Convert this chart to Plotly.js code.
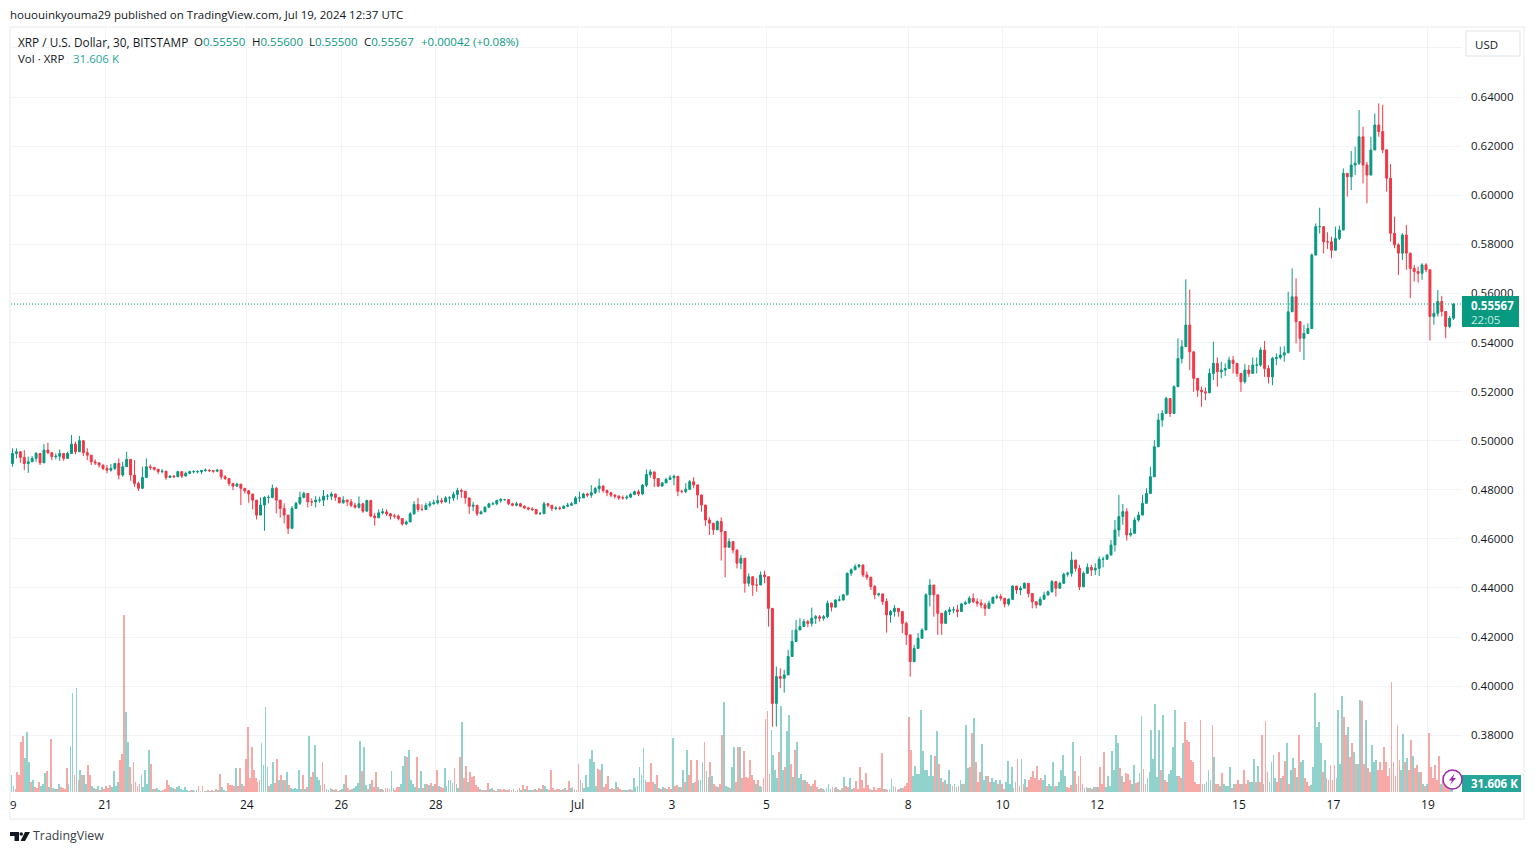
<!DOCTYPE html>
<html>
<head>
<meta charset="utf-8">
<script src="https://cdn.plot.ly/plotly-3.0.1.min.js"></script>
<style>html,body{margin:0;padding:0;background:#fff;overflow:hidden}#chart{width:1534px;height:854px}</style>
</head>
<body>
<div id="chart"></div>
<script>
// Two-hour candles, one row per day (19 Jun - 19 Jul 2024)
const opens = [
.4907,.4948,.4955,.4932,.4907,.4914,.4928,.4948,.4910,.4962,.4951,.4935,
.4937,.4948,.4928,.4948,.4986,.4955,.5000,.4951,.4941,.4914,.4910,.4901,
.4887,.4880,.4887,.4907,.4860,.4894,.4924,.4860,.4826,.4806,.4850,.4894,
.4891,.4884,.4874,.4876,.4850,.4856,.4853,.4874,.4856,.4867,.4874,.4874,.4874,
.4878,.4880,.4878,.4876,.4880,.4853,.4846,.4826,.4815,.4823,.4806,.4796,
.4783,.4758,.4697,.4738,.4769,.4769,.4806,.4758,.4724,.4697,.4643,.4724,
.4745,.4769,.4785,.4751,.4751,.4758,.4758,.4774,.4774,.4783,.4769,
.4747,.4758,.4751,.4737,.4729,.4743,.4713,.4756,.4693,.4686,.4706,.4710,
.4702,.4693,.4693,.4683,.4661,.4669,.4702,.4740,.4720,.4720,.4737,.4743,
.4747,.4756,.4751,.4767,.4767,.4781,.4797,.4794,.4767,.4733,.4737,.4702,
.4710,.4729,.4743,.4743,.4756,.4760,.4760,.4743,.4737,.4743,.4733,.4726,
.4722,.4720,.4702,.4703,.4743,.4737,.4724,.4726,.4724,.4733,.4737,.4743,
.4767,.4767,.4783,.4778,.4788,.4805,.4815,.4797,.4788,.4778,.4774,.4767,
.4767,.4770,.4781,.4792,.4783,.4819,.4862,.4873,.4846,.4815,.4828,.4842,
.4849,.4855,.4794,.4793,.4802,.4833,.4820,.4779,.4738,.4677,.4664,.4637,
.4671,.4630,.4566,.4589,.4555,.4501,.4521,.4419,.4446,.4412,.4412,.4453,
.4446,.4317,.3930,.4039,.4032,.4046,.4121,.4182,.4229,.4243,.4263,.4256,
.4277,.4283,.4277,.4283,.4338,.4322,.4351,.4351,.4372,.4460,.4474,.4487,
.4494,.4453,.4444,.4406,.4372,.4376,.4345,.4290,.4304,.4317,.4304,.4256,
.4209,.4100,.4154,.4195,.4229,.4372,.4412,.4372,.4297,.4256,.4304,.4311,
.4311,.4304,.4335,.4340,.4358,.4344,.4338,.4331,.4317,.4338,.4362,.4365,
.4358,.4335,.4354,.4408,.4392,.4399,.4419,.4378,.4344,.4331,.4354,.4371,
.4385,.4426,.4399,.4419,.4456,.4460,.4514,.4480,.4405,.4460,.4484,.4473,
.4480,.4517,.4517,.4534,.4575,.4636,.4691,.4711,.4616,.4623,.4677,.4697,
.4745,.4785,.4853,.4975,.5084,.5111,.5172,.5111,.5220,.5335,.5383,.5471,
.5362,.5254,.5206,.5199,.5195,.5274,.5315,.5281,.5288,.5294,.5328,.5315,
.5274,.5240,.5288,.5274,.5308,.5308,.5369,.5294,.5260,.5335,.5339,.5349,
.5358,.5525,.5586,.5485,.5417,.5437,.5457,.5756,.5872,.5872,.5810,.5810,
.5776,.5824,.5858,.6089,.6075,.6123,.6130,.6238,.6123,.6082,.6184,.6286,
.6259,.6185,.6069,.5845,.5798,.5764,.5838,.5764,.5702,.5689,.5682,.5716,
.5696,.5506,.5519,.5567,.5526,.5465,.5499
];
const highs = [
.4969,.4969,.4955,.4962,.4935,.4937,.4954,.4941,.4986,.4992,.4945,.4948,
.4964,.4941,.4955,.5023,.4996,.5019,.4989,.4969,.4935,.4924,.4910,.4901,
.4901,.4905,.4910,.4928,.4914,.4955,.4907,.4921,.4833,.4894,.4928,.4903,
.4894,.4880,.4884,.4867,.4860,.4860,.4878,.4867,.4874,.4878,.4880,.4880,.4880,
.4887,.4883,.4880,.4884,.4883,.4860,.4842,.4826,.4829,.4812,.4806,.4799,
.4783,.4758,.4769,.4774,.4778,.4822,.4812,.4745,.4745,.4690,.4734,.4751,
.4792,.4792,.4778,.4765,.4774,.4772,.4799,.4783,.4792,.4778,.4761,
.4774,.4761,.4763,.4747,.4773,.4747,.4760,.4760,.4706,.4720,.4724,.4720,
.4706,.4702,.4699,.4679,.4675,.4709,.4754,.4767,.4740,.4747,.4754,.4760,
.4777,.4767,.4774,.4774,.4792,.4808,.4805,.4792,.4764,.4751,.4733,.4716,
.4733,.4747,.4750,.4760,.4767,.4763,.4756,.4747,.4751,.4747,.4737,.4731,
.4729,.4720,.4710,.4751,.4747,.4737,.4733,.4733,.4737,.4747,.4751,.4774,
.4792,.4788,.4788,.4819,.4811,.4846,.4819,.4801,.4792,.4783,.4778,.4777,
.4778,.4788,.4797,.4801,.4824,.4883,.4883,.4865,.4824,.4832,.4849,.4860,
.4862,.4819,.4800,.4827,.4840,.4851,.4793,.4756,.4711,.4688,.4650,.4675,
.4688,.4596,.4603,.4582,.4548,.4535,.4474,.4460,.4446,.4440,.4467,.4470,
.4446,.4311,.4080,.4073,.4066,.4148,.4229,.4270,.4277,.4273,.4270,.4320,
.4290,.4290,.4290,.4349,.4341,.4354,.4368,.4376,.4463,.4480,.4497,.4498,
.4480,.4467,.4433,.4412,.4381,.4362,.4358,.4311,.4331,.4313,.4304,.4263,
.4188,.4168,.4216,.4236,.4379,.4436,.4412,.4345,.4297,.4311,.4322,.4324,
.4331,.4340,.4348,.4367,.4378,.4358,.4354,.4340,.4348,.4365,.4374,.4376,
.4344,.4358,.4411,.4405,.4408,.4423,.4412,.4378,.4344,.4365,.4385,.4389,
.4433,.4419,.4426,.4462,.4467,.4548,.4514,.4494,.4467,.4500,.4494,.4500,
.4528,.4528,.4539,.4596,.4677,.4779,.4742,.4725,.4643,.4688,.4711,.4779,
.4806,.4894,.5002,.5111,.5125,.5179,.5172,.5226,.5417,.5410,.5657,.5616,
.5315,.5250,.5220,.5217,.5294,.5403,.5339,.5322,.5315,.5342,.5345,.5301,
.5263,.5312,.5308,.5339,.5339,.5380,.5406,.5308,.5342,.5356,.5383,.5385,
.5607,.5702,.5661,.5478,.5471,.5478,.5763,.5885,.5949,.5872,.5849,.5831,
.5872,.5876,.6109,.6089,.6180,.6198,.6347,.6279,.6136,.6238,.6333,.6374,
.6368,.6185,.6127,.5913,.5804,.5845,.5879,.5743,.5716,.5709,.5723,.5723,
.5689,.5560,.5614,.5590,.5519,.5508,.5560
];
const lows = [
.4894,.4928,.4910,.4880,.4869,.4914,.4914,.4901,.4910,.4945,.4921,.4924,
.4918,.4918,.4932,.4964,.4945,.4978,.4937,.4921,.4901,.4901,.4891,.4880,
.4867,.4874,.4880,.4842,.4853,.4901,.4837,.4812,.4795,.4829,.4860,.4880,
.4878,.4864,.4867,.4840,.4850,.4849,.4864,.4848,.4860,.4864,.4867,.4867,.4864,
.4874,.4872,.4869,.4872,.4842,.4840,.4815,.4799,.4812,.4738,.4785,.4747,
.4720,.4679,.4697,.4633,.4745,.4765,.4704,.4687,.4663,.4620,.4677,.4724,
.4738,.4765,.4728,.4734,.4728,.4747,.4734,.4758,.4758,.4755,.4745,
.4744,.4734,.4729,.4724,.4724,.4706,.4729,.4688,.4654,.4686,.4699,.4693,
.4679,.4683,.4675,.4654,.4656,.4675,.4699,.4710,.4713,.4726,.4729,.4740,
.4740,.4743,.4747,.4743,.4754,.4760,.4767,.4743,.4702,.4713,.4693,.4702,
.4713,.4733,.4737,.4737,.4747,.4756,.4737,.4733,.4733,.4729,.4722,.4716,
.4713,.4699,.4699,.4706,.4729,.4713,.4717,.4717,.4722,.4729,.4737,.4747,
.4751,.4770,.4770,.4767,.4783,.4788,.4788,.4774,.4770,.4764,.4758,.4760,
.4760,.4774,.4778,.4774,.4778,.4811,.4849,.4811,.4811,.4819,.4828,.4842,
.4819,.4774,.4786,.4786,.4806,.4806,.4725,.4711,.4653,.4616,.4616,.4664,
.4512,.4444,.4580,.4541,.4480,.4476,.4381,.4406,.4368,.4385,.4433,.4419,
.4243,.3835,.3835,.3992,.3974,.4059,.4121,.4182,.4229,.4243,.4240,.4243,
.4254,.4263,.4267,.4277,.4304,.4331,.4345,.4349,.4372,.4449,.4474,.4480,
.4444,.4433,.4392,.4354,.4365,.4331,.4218,.4259,.4283,.4283,.4216,.4168,
.4039,.4127,.4161,.4218,.4229,.4324,.4283,.4209,.4209,.4270,.4290,.4297,
.4281,.4310,.4331,.4335,.4338,.4324,.4317,.4286,.4317,.4348,.4354,.4348,
.4321,.4327,.4351,.4376,.4371,.4399,.4362,.4317,.4317,.4327,.4362,.4371,
.4381,.4365,.4403,.4430,.4446,.4446,.4467,.4392,.4426,.4457,.4449,.4453,
.4449,.4484,.4514,.4541,.4548,.4609,.4657,.4593,.4609,.4636,.4670,.4697,
.4758,.4799,.4880,.4975,.5057,.5111,.5097,.5138,.5220,.5315,.5403,.5288,
.5199,.5179,.5138,.5165,.5213,.5247,.5220,.5254,.5263,.5294,.5274,.5260,
.5199,.5233,.5260,.5274,.5274,.5301,.5260,.5233,.5226,.5308,.5331,.5322,
.5356,.5539,.5396,.5362,.5328,.5437,.5485,.5770,.5844,.5763,.5781,.5743,
.5804,.5817,.5858,.5994,.6021,.6082,.6123,.6048,.5967,.6089,.6204,.6238,
.6171,.6015,.5811,.5784,.5675,.5736,.5696,.5580,.5648,.5644,.5655,.5686,
.5408,.5472,.5506,.5506,.5417,.5458,.5492
];
const closes = [
.4948,.4955,.4932,.4907,.4914,.4928,.4948,.4910,.4962,.4951,.4935,.4937,
.4948,.4928,.4948,.4986,.4955,.5000,.4951,.4941,.4914,.4910,.4901,.4887,
.4880,.4887,.4907,.4860,.4894,.4924,.4860,.4826,.4806,.4850,.4894,.4891,
.4884,.4874,.4876,.4850,.4856,.4853,.4874,.4856,.4867,.4874,.4874,.4874,.4878,
.4880,.4878,.4876,.4880,.4853,.4846,.4826,.4815,.4823,.4806,.4796,.4783,
.4758,.4697,.4738,.4769,.4769,.4806,.4758,.4724,.4697,.4643,.4724,.4745,
.4769,.4785,.4751,.4751,.4758,.4758,.4774,.4774,.4783,.4769,.4747,
.4758,.4751,.4737,.4729,.4743,.4713,.4756,.4693,.4686,.4706,.4710,.4702,
.4693,.4693,.4683,.4661,.4669,.4702,.4740,.4720,.4720,.4737,.4743,.4747,
.4756,.4751,.4767,.4767,.4781,.4797,.4794,.4767,.4733,.4737,.4702,.4710,
.4729,.4743,.4743,.4756,.4760,.4760,.4743,.4737,.4743,.4733,.4726,.4722,
.4720,.4702,.4703,.4743,.4737,.4724,.4726,.4724,.4733,.4737,.4743,.4767,
.4767,.4783,.4778,.4788,.4805,.4815,.4797,.4788,.4778,.4774,.4767,.4767,
.4770,.4781,.4792,.4783,.4819,.4862,.4873,.4846,.4815,.4828,.4842,.4849,
.4855,.4794,.4793,.4802,.4833,.4820,.4779,.4738,.4677,.4664,.4637,.4671,
.4630,.4566,.4589,.4555,.4501,.4521,.4419,.4446,.4412,.4412,.4453,.4446,
.4317,.3930,.4039,.4032,.4046,.4121,.4182,.4229,.4243,.4263,.4256,.4277,
.4283,.4277,.4283,.4338,.4322,.4351,.4351,.4372,.4460,.4474,.4487,.4494,
.4453,.4444,.4406,.4372,.4376,.4345,.4290,.4304,.4317,.4304,.4256,.4209,
.4100,.4154,.4195,.4229,.4372,.4412,.4372,.4297,.4256,.4304,.4311,.4311,
.4304,.4335,.4340,.4358,.4344,.4338,.4331,.4317,.4338,.4362,.4365,.4358,
.4335,.4354,.4408,.4392,.4399,.4419,.4378,.4344,.4331,.4354,.4371,.4385,
.4426,.4399,.4419,.4456,.4460,.4514,.4480,.4405,.4460,.4484,.4473,.4480,
.4517,.4517,.4534,.4575,.4636,.4691,.4711,.4616,.4623,.4677,.4697,.4745,
.4785,.4853,.4975,.5084,.5111,.5172,.5111,.5220,.5335,.5383,.5471,.5362,
.5254,.5206,.5199,.5195,.5274,.5315,.5281,.5288,.5294,.5328,.5315,.5274,
.5240,.5288,.5274,.5308,.5308,.5369,.5294,.5260,.5335,.5339,.5349,.5358,
.5525,.5586,.5485,.5417,.5437,.5457,.5756,.5872,.5872,.5810,.5810,.5776,
.5824,.5858,.6089,.6075,.6123,.6130,.6238,.6123,.6082,.6184,.6286,.6259,
.6185,.6069,.5845,.5798,.5764,.5838,.5764,.5702,.5689,.5682,.5716,.5696,
.5506,.5519,.5567,.5526,.5465,.5499,.55567
];
// Hourly volume in thousands of XRP, one row per day; a negative sign marks a falling bar
const volumes = [
68,24,-12,-80,-68,-200,-224,136,240,120,-40,48,-20,-16,-40,24,32,76,-84,20,-212,16,12,-12,
32,-20,-16,-12,-96,32,184,396,-68,416,-48,88,-68,68,32,-108,-68,24,16,-12,24,-8,20,-12,
-24,-16,-28,20,84,24,40,-128,-152,-708,320,200,-100,32,-120,-40,-24,-32,68,20,88,32,168,-112,
12,-12,16,8,4,-8,-12,-48,-28,20,16,-12,20,24,12,8,20,8,4,-8,8,-4,8,-24,
4,-24,4,4,-8,4,-8,4,-12,8,-72,20,8,4,-36,-28,-28,-24,96,-24,-96,32,-24,-132,
-260,-56,-180,-88,-56,-40,-48,196,108,340,100,-24,32,120,-36,-132,48,-68,48,-48,80,-28,16,12,
16,12,88,12,-68,12,-20,224,-60,-80,188,60,48,-28,-120,-32,12,8,16,-12,8,-12,4,-8,
12,32,-68,-16,8,-12,16,24,36,204,-84,180,28,-12,32,-48,-20,-80,20,-12,12,-8,-16,-16,
-12,84,16,-8,-20,-20,32,104,144,-140,168,48,32,20,-140,16,84,-16,32,-32,28,-36,24,-32,
-88,24,-20,-16,96,24,48,48,36,-96,32,16,-140,280,-56,-104,40,-80,-60,-64,-28,-20,12,-8,
8,-8,-36,12,16,-8,-4,12,-12,-8,-12,8,-8,-12,-8,12,-4,-8,-16,8,-28,12,-24,8,
8,-8,12,-8,-16,12,-28,24,12,-8,-88,-16,8,-12,-12,8,-12,16,-8,-44,16,-20,12,-8,
-112,48,-36,16,68,20,132,168,120,24,-92,-88,112,-20,-32,-64,12,-16,-12,40,-20,-12,-8,8,
8,-8,12,-8,56,20,24,100,68,176,48,-40,-40,-116,-40,32,-68,16,-12,20,-16,12,-20,-12,
216,-24,-28,20,-20,88,-40,168,-68,-128,36,-40,-128,48,48,120,-200,84,60,-120,64,-32,-24,20,
-32,-228,360,24,20,-16,100,180,-40,-180,180,-56,-164,-60,-56,-128,-68,-48,32,-48,24,20,-56,-292,
-324,-72,248,148,88,56,-160,344,88,-100,244,308,-112,60,-168,200,56,72,-48,48,-40,-32,24,-32,
-48,-20,12,-16,12,-8,16,32,12,-20,-16,20,-12,8,-16,60,-24,-20,56,12,-16,-44,-12,-100,
-48,-16,-76,-28,-12,8,-20,-8,-16,-16,-156,12,-12,-8,12,52,24,-20,8,-12,16,-16,-24,-36,
-300,-168,64,104,72,72,328,164,88,88,64,148,64,-144,244,-112,56,-40,48,-32,88,32,-24,32,
20,-24,48,32,-32,268,96,-100,-236,296,-120,-40,-80,192,48,64,-64,-40,56,40,48,-32,48,-32,
-12,40,124,32,100,-16,40,-132,-24,132,-32,52,-20,-48,-60,-84,-56,-104,-48,-56,48,68,-24,32,
24,120,-24,24,40,88,148,64,-20,-16,-28,200,-84,-32,-64,-144,-32,16,20,-16,16,-12,20,-20,
20,-100,-32,-160,20,64,24,164,88,228,196,-96,64,-40,-76,-72,-48,32,108,-36,-40,76,304,-92,
-32,56,80,248,132,352,60,248,-88,308,-48,-40,72,88,180,328,64,-64,-56,196,-280,-208,-200,-128,
-120,-40,-32,-32,-288,-32,32,40,88,48,-268,140,-32,-32,24,-76,32,24,24,100,-16,32,-32,-48,
-32,32,-88,-32,-48,40,40,132,-40,104,-40,-228,32,-284,-80,40,120,148,56,-40,-160,56,-64,-124,
196,-32,88,136,-96,60,-228,120,128,-56,-40,-24,28,100,396,260,280,196,-80,128,-56,-48,-108,-48,
-108,56,328,112,384,-300,-228,260,-140,-196,160,-112,112,368,-364,-112,288,-96,-80,188,120,128,-88,-120,
-88,-180,-120,-64,-96,-440,-120,-64,-268,-128,88,232,-120,136,-88,-208,144,-96,-108,80,-80,32,-24,32,
-236,-100,-56,-108,-48,-144,32,-48,-56,-40,-24,16,31.606
];
const tickDates = ['2024-06-21','2024-06-24','2024-06-26','2024-06-28','2024-07-01','2024-07-03','2024-07-05','2024-07-08','2024-07-10','2024-07-12','2024-07-15','2024-07-17','2024-07-19'];
const tickLabels = ['21','24','26','28','Jul','3','5','8','10','12','15','17','19'];
const priceTicks = [0.38,0.40,0.42,0.44,0.46,0.48,0.50,0.52,0.54,0.56,0.58,0.60,0.62,0.64,0.66];
const priceLabels = ['0.38000','0.40000','0.42000','0.44000','0.46000','0.48000','0.50000','0.52000','0.54000','0.56000','0.58000','0.60000','0.62000','0.64000',''];
const lastPrice = 0.55567;

const UP = '#089981', DOWN = '#F23645', GRID = '#F2F3F7', FRAME = '#E8E9F0', INK = '#131722';
const FONT = 'Open Sans, sans-serif';
const W = 1534, H = 854, L = 11, R = 1462, T = 28, B = 792;
const px = x => (x - L) / (R - L);
const py = y => (B - y) / (B - T);
const HOUR = 3600000, START = Date.UTC(2024, 5, 19);
const iso = t => new Date(t).toISOString().slice(0, 19).replace('T', ' ');

const candleTimes = closes.map((_, i) => iso(START + (2 * i + 1) * HOUR));
const volumeTimes = volumes.map((_, i) => iso(START + (i + 0.5) * HOUR));

const traces = [
  { type: 'bar', x: volumeTimes, y: volumes.map(Math.abs), xaxis: 'x', yaxis: 'y', width: 0.92 * HOUR,
    marker: { color: volumes.map(v => v < 0 ? 'rgba(239,83,80,0.5)' : 'rgba(38,166,154,0.5)'), line: { width: 0 } }, hoverinfo: 'skip' },
  { type: 'candlestick', x: candleTimes, open: opens, high: highs, low: lows, close: closes, xaxis: 'x', yaxis: 'y2',
    width: 0.55 * HOUR, whiskerwidth: 0,
    increasing: { line: { color: UP, width: 1 }, fillcolor: UP },
    decreasing: { line: { color: DOWN, width: 1 }, fillcolor: DOWN }, hoverinfo: 'skip' }
];

const rect = (x0, y0, x1, y1, fill, line) => ({ type: 'rect', xref: 'paper', yref: 'paper', x0: px(x0), x1: px(x1), y0: py(y1), y1: py(y0),
  fillcolor: fill, line: line ? { color: line, width: 1 } : { width: 0 }, layer: 'above' });
const poly = (pts, fill) => ({ type: 'path', xref: 'paper', yref: 'paper', fillcolor: fill, line: { width: 0 }, layer: 'above',
  path: 'M' + pts.map(p => px(p[0]) + ',' + py(p[1])).join('L') + 'Z' });
const label = (x, y, text, o = {}) => ({ xref: 'paper', yref: 'paper', x: px(x), y: py(y), text, showarrow: false,
  xanchor: o.anchor || 'left', yanchor: 'middle', align: 'left', font: { family: FONT, size: o.size || 11.5, color: o.color || INK }, borderpad: 0, borderwidth: 0 });

const shapes = [
  // chart frame
  rect(10, 27, 1524, 819, 'rgba(0,0,0,0)', FRAME),
  // last price line
  { type: 'line', xref: 'paper', yref: 'y2', x0: 0, x1: 1, y0: lastPrice, y1: lastPrice, line: { color: UP, width: 1, dash: '1px,2px' }, layer: 'above' },
  // currency button
  rect(1466, 31, 1520, 56, '#FFFFFF', '#E0E3EB'),
  // price and volume tags
  rect(1462, 296, 1519, 327, UP),
  rect(1462, 775, 1521, 792, '#26A69A'),
  // bolt badge
  { type: 'circle', xref: 'paper', yref: 'paper', x0: px(1443), x1: px(1462), y0: py(789), y1: py(770), fillcolor: '#FFFFFF', line: { color: '#9C27B0', width: 1.5 }, layer: 'above' },
  poly([[1454.5, 773.5], [1449, 780.5], [1452, 780.5], [1450, 785], [1456, 778], [1453, 778]], '#9C27B0'),
  // TradingView mark
  poly([[10, 832], [19, 832], [19, 841], [14.5, 841], [14.5, 836], [10, 836]], INK),
  { type: 'circle', xref: 'paper', yref: 'paper', x0: px(19.5), x1: px(23), y0: py(835.8), y1: py(832.2), fillcolor: INK, line: { width: 0 }, layer: 'above' },
  poly([[25, 832], [30, 832], [25, 841], [20.5, 841]], INK)
];

const G = c => `<span style="color:${c}">`;
const annotations = [
  label(10, 14.5, 'hououinkyouma29 published on TradingView.com, Jul 19, 2024 12:37 UTC'),
  label(18, 41.5, 'XRP / U.S. Dollar, 30, BITSTAMP', { size: 11.8 }),
  label(194, 41.5, `O${G(UP)}0.55550</span>`),
  label(252, 41.5, `H${G(UP)}0.55600</span>`),
  label(309, 41.5, `L${G(UP)}0.55500</span>`),
  label(364, 41.5, `C${G(UP)}0.55567</span>`),
  label(421, 41.5, '+0.00042 (+0.08%)', { color: UP }),
  label(18, 58.5, 'Vol · XRP'),
  label(73, 58.5, '31.606 K', { color: '#26A69A' }),
  label(1486, 44, 'USD', { anchor: 'center' }),
  label(1471, 305, '<b>0.55567</b>', { color: '#FFFFFF' }),
  label(1471, 319, '22:05', { color: '#CDEBE5' }),
  label(1471, 783.5, '<b>31.606 K</b>', { color: '#FFFFFF' }),
  label(13, 804, '9', { anchor: 'center' }),
  label(33, 836, 'TradingView', { size: 12.4, color: '#3A3F4A' })
];

const layout = {
  width: W, height: H, margin: { l: L, r: W - R, t: T, b: H - B, pad: 0 },
  paper_bgcolor: '#FFFFFF', plot_bgcolor: '#FFFFFF', showlegend: false, bargap: 0, barmode: 'overlay', dragmode: false,
  font: { family: FONT, size: 11.5, color: INK },
  xaxis: { type: 'date', range: ['2024-06-19 00:15', '2024-07-19 17:17'], tickmode: 'array', tickvals: tickDates, ticktext: tickLabels,
    showgrid: true, gridcolor: GRID, gridwidth: 1, zeroline: false, showline: false, ticks: '', tickangle: 0,
    tickfont: { family: FONT, size: 12, color: INK }, rangeslider: { visible: false }, ticklabelstandoff: 4 },
  yaxis: { range: [0, 3056], visible: false, showgrid: false, zeroline: false, fixedrange: true },
  yaxis2: { overlaying: 'y', side: 'right', anchor: 'x', range: [0.35690, 0.66811], tickmode: 'array', tickvals: priceTicks, ticktext: priceLabels,
    showgrid: true, gridcolor: GRID, gridwidth: 1, zeroline: false, showline: false, ticks: '', ticklabelstandoff: 8,
    tickfont: { family: FONT, size: 11.5, color: INK } },
  shapes, annotations
};

if (new Set([opens.length, highs.length, lows.length, closes.length]).size !== 1 || volumes.length !== 733) {
  throw new Error('lengths ' + [opens.length, highs.length, lows.length, closes.length, volumes.length]);
}
Plotly.newPlot('chart', traces, layout, { displayModeBar: false, staticPlot: true });
</script>
</body>
</html>
